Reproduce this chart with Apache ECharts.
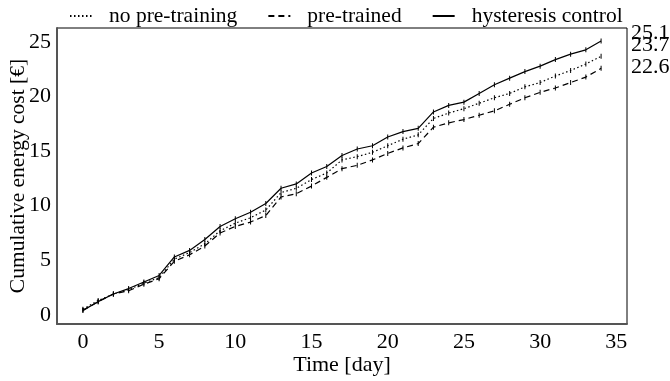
<!DOCTYPE html>
<html>
<head>
<meta charset="utf-8">
<script src="https://cdn.jsdelivr.net/npm/echarts@6/dist/echarts.min.js"></script>
<style>
  html, body { margin: 0; padding: 0; background: #fff; }
  #chart { width: 670px; height: 381px; }
</style>
</head>
<body>
<div id="chart"></div>
<script>
// days 0..34
var days = [];
for (var d = 0; d <= 34; d++) { days.push(d); }

var noPreTraining = [0.5, 1.3, 1.9, 2.3, 2.9, 3.4, 5.1, 5.7, 6.5, 7.7, 8.4, 8.9, 9.6, 11.2, 11.6, 12.4, 13.0, 14.2, 14.5, 14.9,
    15.5, 16.1, 16.5, 18.0, 18.5, 18.9, 19.4, 19.9, 20.3, 20.9, 21.3, 21.9, 22.4, 23.0, 23.7];
var preTrained = [0.4, 1.2, 1.9, 2.2, 2.8, 3.3, 4.9, 5.5, 6.3, 7.5, 8.1, 8.5, 9.1, 10.8, 11.1, 11.8, 12.6, 13.4, 13.7, 14.2,
    14.8, 15.3, 15.7, 17.2, 17.6, 17.9, 18.3, 18.7, 19.3, 19.9, 20.4, 20.8, 21.3, 21.8, 22.6];
var hysteresis = [0.4, 1.2, 1.9, 2.4, 3.0, 3.6, 5.3, 5.9, 6.9, 8.1, 8.8, 9.4, 10.2, 11.6, 12.0, 13.0, 13.6, 14.6, 15.2, 15.5,
    16.3, 16.8, 17.1, 18.6, 19.2, 19.5, 20.3, 21.1, 21.7, 22.3, 22.8, 23.4, 23.9, 24.3, 25.1];

var xTicks = [0, 5, 10, 15, 20, 25, 30, 35];
var yTicks = [0, 5, 10, 15, 20, 25];

function pairs(arr) {
    return arr.map(function (v, i) { return [days[i], v]; });
}

var font = 'Liberation Serif';

function makeSeries(name, data, lineType, labelOffset) {
    return {
        name: name,
        type: 'line',
        data: pairs(data),
        symbol: 'rect',
        symbolSize: [1, 5],
        itemStyle: { color: '#000' },
        lineStyle: { color: '#000', width: 1.2, type: lineType },
        endLabel: {
            show: true,
            formatter: function (p) { return p.value[1].toFixed(1); },
            color: '#000',
            fontFamily: font,
            fontSize: 22,
            offset: labelOffset
        }
    };
}

var chart = echarts.init(document.getElementById('chart'));
var option = {
    animation: false,
    textStyle: { fontFamily: font },
    legend: {
        top: 0,
        left: 64,
        itemWidth: 22,
        itemHeight: 14,
        itemGap: 30,
        itemStyle: { opacity: 0 },
        textStyle: { fontFamily: font, fontSize: 21.5, color: '#000', padding: [0, 0, 0, 12] },
        data: ['no pre-training', 'pre-trained', 'hysteresis control']
    },
    grid: {
        left: 57, right: 43, top: 28, bottom: 57,
        outerBoundsMode: 'none',
        containLabel: false,
        show: true, borderColor: '#000', borderWidth: 1
    },
    xAxis: {
        type: 'value',
        min: -1.7,
        max: 35.7,
        name: 'Time [day]',
        nameLocation: 'middle',
        nameGap: 30,
        nameMoveOverlap: false,
        nameTextStyle: { fontFamily: font, fontSize: 22, color: '#000' },
        axisLine: { show: true, onZero: false, lineStyle: { color: '#555', width: 2 } },
        axisTick: { show: false },
        splitLine: { show: false },
        axisLabel: {
            customValues: xTicks,
            fontFamily: font, fontSize: 22, color: '#000', margin: 7
        }
    },
    yAxis: {
        type: 'value',
        min: -0.85,
        max: 26.3,
        name: 'Cumulative energy cost [€]',
        nameLocation: 'middle',
        nameGap: 28,
        nameMoveOverlap: false,
        nameTextStyle: { fontFamily: font, fontSize: 21.5, color: '#000' },
        axisLine: { show: true, onZero: false, lineStyle: { color: '#555', width: 2 } },
        axisTick: { show: false },
        splitLine: { show: false },
        axisLabel: {
            customValues: yTicks,
            fontFamily: font, fontSize: 22, color: '#000', margin: 6
        }
    },
    series: [
        makeSeries('no pre-training', noPreTraining, [1.5, 2.5], [22, -11]),
        makeSeries('pre-trained', preTrained, [6, 4], [22, -1]),
        makeSeries('hysteresis control', hysteresis, 'solid', [22, -8])
    ]
};
chart.setOption(option);
</script>
</body>
</html>
